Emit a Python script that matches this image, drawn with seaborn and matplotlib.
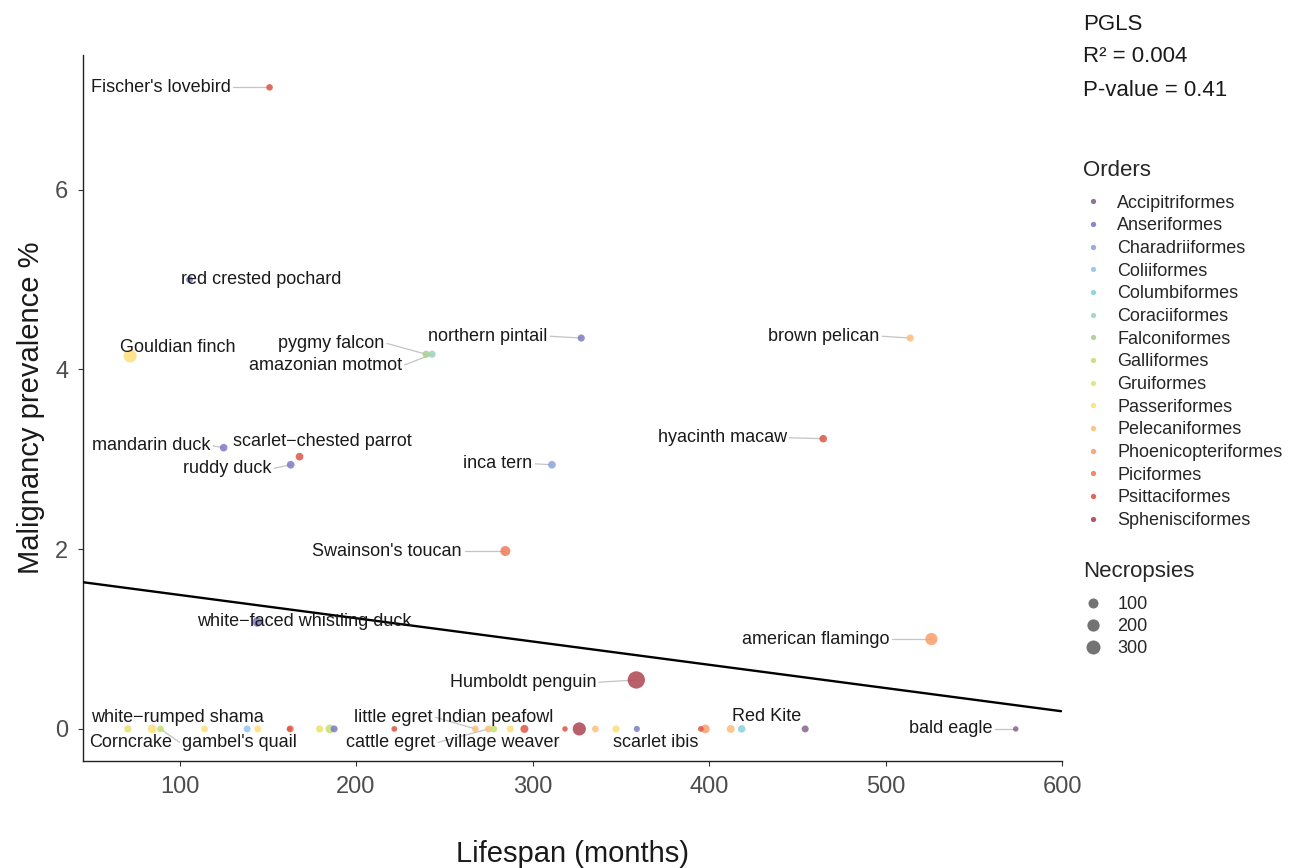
import numpy as np
import pandas as pd
import matplotlib
matplotlib.use("Agg")
import matplotlib.pyplot as plt
import seaborn as sns
from matplotlib.lines import Line2D

# ---------------- data ----------------
species = [
    "Fischer's lovebird", "red crested pochard", "Gouldian finch", "pygmy falcon",
    "amazonian motmot", "northern pintail", "brown pelican", "mandarin duck",
    "scarlet\u2212chested parrot", "ruddy duck", "inca tern", "hyacinth macaw",
    "Swainson's toucan", "white\u2212faced whistling duck", "american flamingo",
    "Humboldt penguin",
    "Corncrake", "", "gambel's quail", "white\u2212rumped shama", "", "", "", "",
    "", "", "", "", "little egret", "cattle egret", "Indian peafowl", "village weaver",
    "", "", "", "scarlet ibis", "", "", "", "", "", "", "Red Kite", "bald eagle",
]
lifespan = [
    151, 105.7, 72, 239.7,
    243.1, 327.6, 514, 125,
    168, 163, 311, 464.7,
    284.6, 144, 526,
    358.8,
    70.7, 84.5, 89.2, 114.2, 138.3, 144.3, 162.8, 162.3,
    179.4, 185.2, 187.6, 221.7, 267.6, 275.1, 278.0, 287.4,
    295.4, 318.4, 326.5, 335.6, 347.3, 359.1, 397.9, 395.4,
    412.3, 418.5, 454.5, 573.8,
]
prevalence = [
    7.14, 5.0, 4.15, 4.17,
    4.17, 4.35, 4.35, 3.13,
    3.03, 2.94, 2.94, 3.23,
    1.98, 1.19, 1.0,
    0.545,
    0, 0, 0, 0, 0, 0, 0, 0,
    0, 0, 0, 0, 0, 0, 0, 0,
    0, 0, 0, 0, 0, 0, 0, 0,
    0, 0, 0, 0,
]
necropsies = [
    14, 20, 241, 24,
    24, 23, 23, 32,
    33, 34, 34, 31,
    101, 84, 200,
    550,
    25, 60, 15, 15, 20, 20, 20, 3,
    25, 60, 20, 5, 15, 20, 20, 20,
    40, 3, 250, 15, 25, 8, 60, 5,
    40, 30, 20, 3,
]
order = [
    "Psittaciformes", "Anseriformes", "Passeriformes", "Falconiformes",
    "Coraciiformes", "Anseriformes", "Pelecaniformes", "Anseriformes",
    "Psittaciformes", "Anseriformes", "Charadriiformes", "Psittaciformes",
    "Piciformes", "Anseriformes", "Phoenicopteriformes",
    "Sphenisciformes",
    "Gruiformes", "Passeriformes", "Galliformes", "Passeriformes", "Coliiformes",
    "Passeriformes", "Piciformes", "Psittaciformes",
    "Gruiformes", "Galliformes", "Anseriformes", "Psittaciformes", "Pelecaniformes",
    "Pelecaniformes", "Galliformes", "Passeriformes",
    "Psittaciformes", "Psittaciformes", "Sphenisciformes", "Pelecaniformes",
    "Passeriformes", "Anseriformes", "Phoenicopteriformes", "Psittaciformes",
    "Pelecaniformes", "Columbiformes", "Accipitriformes", "Accipitriformes",
]

order_names = [
    "Accipitriformes", "Anseriformes", "Charadriiformes", "Coliiformes",
    "Columbiformes", "Coraciiformes", "Falconiformes", "Galliformes",
    "Gruiformes", "Passeriformes", "Pelecaniformes", "Phoenicopteriformes",
    "Piciformes", "Psittaciformes", "Sphenisciformes",
]
order_colors = [
    "#86658b", "#7b7cc4", "#8ea2de", "#96c3ee",
    "#8bd0dc", "#9dd5bb", "#a8d08f", "#c5df73",
    "#e3e56f", "#fddf7a", "#fdbe7b", "#f99f6b",
    "#ef7c58", "#da5746", "#ad4550",
]

pgls_intercept = 1.75
pgls_slope = -0.00259
stats_lines = ["PGLS", "R\u00b2 = 0.004", "P-value = 0.41"]
size_breaks = [100, 200, 300]

# label layout (data coords): species -> (x, y, ha, draw connector)
label_layout = {
    "Fischer's lovebird": (129, 7.14, "right", True),
    "red crested pochard": (146, 5.0, "center", False),
    "Gouldian finch": (99.2, 4.25, "center", False),
    "pygmy falcon": (216, 4.29, "right", True),
    "amazonian motmot": (226, 4.05, "right", True),
    "northern pintail": (308.5, 4.37, "right", True),
    "brown pelican": (496.5, 4.37, "right", True),
    "mandarin duck": (117.5, 3.15, "right", True),
    "scarlet\u2212chested parrot": (181, 3.20, "center", False),
    "ruddy duck": (152, 2.90, "right", True),
    "inca tern": (300, 2.95, "right", True),
    "hyacinth macaw": (444, 3.24, "right", True),
    "Swainson's toucan": (260, 1.98, "right", True),
    "white\u2212faced whistling duck": (170.8, 1.19, "center", False),
    "american flamingo": (502, 1.0, "right", True),
    "Humboldt penguin": (336, 0.52, "right", True),
    "Corncrake": (72.5, -0.15, "center", False),
    "gambel's quail": (101.5, -0.15, "left", True),
    "white\u2212rumped shama": (98.9, 0.13, "center", False),
    "little egret": (243.5, 0.13, "right", True),
    "cattle egret": (245, -0.15, "right", True),
    "Indian peafowl": (279, 0.13, "center", False),
    "village weaver": (282.9, -0.15, "center", False),
    "scarlet ibis": (369.8, -0.15, "center", False),
    "Red Kite": (432.4, 0.14, "center", False),
    "bald eagle": (560.5, 0.0, "right", True),
}

df = pd.DataFrame({"species": species, "lifespan": lifespan,
                   "prevalence": prevalence, "necropsies": necropsies,
                   "order": order})


def diam_px(n):
    return 4.54 + 0.546 * np.sqrt(n)


def area_pt2(n):
    return (diam_px(n) * 0.72) ** 2


size_map = {n: area_pt2(n) for n in sorted(set(necropsies))}

# ---------------- style ----------------
sns.set_style("ticks")
plt.rcParams["font.family"] = ["Liberation Sans", "DejaVu Sans"]

W, H = 1294, 868
fig = plt.figure(figsize=(W / 100, H / 100), dpi=100)
ax = fig.add_axes([83 / W, 1 - 761 / H, (1062 - 83) / W, (761 - 55) / H])

palette = dict(zip(order_names, order_colors))
sns.scatterplot(data=df, x="lifespan", y="prevalence", hue="order",
                hue_order=order_names, palette=palette, size="necropsies",
                sizes=size_map, alpha=0.85, edgecolor="none", linewidth=0,
                legend=False, ax=ax, zorder=3)

xlim = (45.3, 599.5)
ax.set_xlim(*xlim)
ax.set_ylim(-0.357, 7.5)
xs = np.array(xlim)
ax.plot(xs, pgls_intercept + pgls_slope * xs, color="black", lw=1.7, zorder=4)

# labels with connectors
for sp, lx, py in zip(df["species"], df["lifespan"], df["prevalence"]):
    if not sp:
        continue
    tx, ty, ha, conn = label_layout[sp]
    ax.text(tx, ty, sp, ha=ha, va="center", fontsize=13, color="#1a1a1a", zorder=5)
    if conn:
        sx = tx + 1.5 if ha == "right" else tx - 1.5
        ax.plot([sx, lx], [ty, py], color="#c4c4c4", lw=0.9, zorder=2)

ax.set_xticks([100, 200, 300, 400, 500, 600])
ax.set_yticks([0, 2, 4, 6])
ax.tick_params(axis="both", labelsize=17, labelcolor="#4d4d4d", color="#333333",
               length=3.5, width=0.8, pad=7)
for s in ["top", "right"]:
    ax.spines[s].set_visible(False)
for s in ["left", "bottom"]:
    ax.spines[s].set_color("#222222")
    ax.spines[s].set_linewidth(1.0)
ax.set_xlabel("Lifespan (months)", fontsize=21, labelpad=30.5, color="#1a1a1a")
ax.set_ylabel("Malignancy prevalence %", fontsize=21, labelpad=7, color="#1a1a1a")

# stats annotation
for i, t in enumerate(stats_lines):
    fig.text(1083 / W, 1 - (24 + 33 * i) / H, t, fontsize=16, va="center",
             ha="left", color="#1a1a1a")

# legends
order_handles = [Line2D([0], [0], marker="o", linestyle="", markersize=3.8,
                        markerfacecolor=c, markeredgecolor="none", alpha=0.9)
                 for c in order_colors]
bp1 = 0.4
pad1 = bp1 * 13 / 0.72
leg1 = fig.legend(order_handles, order_names, title="Orders", loc="upper left",
                  bbox_to_anchor=((1083 - pad1) / W, 1 - (160 - pad1) / H),
                  frameon=False, fontsize=13, title_fontsize=16, borderpad=bp1,
                  borderaxespad=0, handlelength=1.1, handletextpad=0.8,
                  labelspacing=0.313, alignment="left")
leg1._legend_box.sep = 9.9

size_handles = [Line2D([0], [0], marker="o", linestyle="",
                       markersize=diam_px(n) * 0.72, markerfacecolor="#5a5a5a",
                       markeredgecolor="none", alpha=0.85) for n in size_breaks]
bp2 = 0.55
pad2 = bp2 * 13 / 0.72
leg2 = fig.legend(size_handles, [str(n) for n in size_breaks], title="Necropsies",
                  loc="upper left",
                  bbox_to_anchor=((1083 - pad2) / W, 1 - (561 - pad2) / H),
                  frameon=False, fontsize=13, title_fontsize=16, borderpad=bp2,
                  borderaxespad=0, handlelength=1.1, handletextpad=0.8,
                  labelspacing=0.27, alignment="left")
leg2._legend_box.sep = 10.2

fig.savefig("out.png", dpi=100)
